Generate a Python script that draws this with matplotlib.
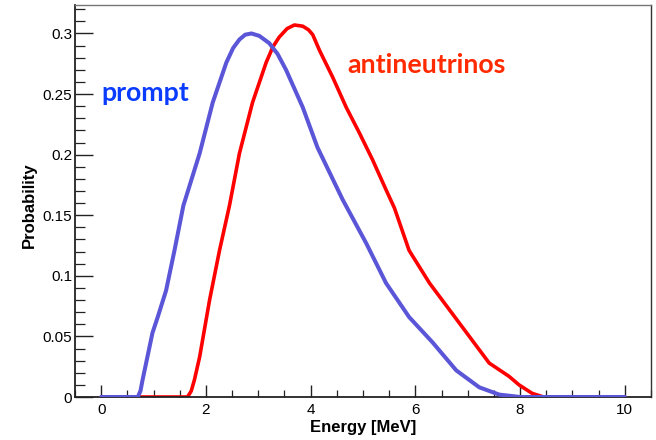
import matplotlib
matplotlib.use("Agg")
import matplotlib.pyplot as plt
from matplotlib.ticker import MultipleLocator

# Data
prompt_energy = [0, 0.70, 0.75, 0.79, 0.98, 1.08, 1.24, 1.40, 1.57, 1.88, 2.13, 2.39, 2.52,
                 2.64, 2.75, 2.87, 3.02, 3.21, 3.37, 3.53, 3.85, 4.13, 4.61, 5.06, 5.44,
                 5.88, 6.33, 6.78, 7.22, 7.60, 8.00, 10.0]
prompt_prob = [0, 0, 0.005, 0.014, 0.053, 0.066, 0.088, 0.121, 0.158, 0.201, 0.243, 0.276, 0.288,
               0.295, 0.299, 0.300, 0.298, 0.292, 0.283, 0.270, 0.239, 0.206, 0.163, 0.127, 0.094,
               0.066, 0.045, 0.022, 0.008, 0.002, 0, 0]

anti_energy = [0, 1.65, 1.72, 1.78, 1.88, 2.07, 2.26, 2.45, 2.64, 2.89, 3.15, 3.28, 3.40, 3.55,
               3.69, 3.85, 3.96, 4.04, 4.17, 4.42, 4.68, 4.93, 5.18, 5.44, 5.60, 5.88, 6.27,
               6.65, 7.03, 7.41, 7.79, 7.98, 8.23, 8.45, 10.0]
anti_prob = [0, 0, 0.005, 0.014, 0.033, 0.080, 0.121, 0.158, 0.201, 0.243, 0.276, 0.289, 0.297, 0.304,
             0.307, 0.306, 0.303, 0.299, 0.286, 0.264, 0.239, 0.218, 0.196, 0.171, 0.156, 0.121, 0.094,
             0.072, 0.050, 0.028, 0.017, 0.010, 0.003, 0, 0]

x_ticks = [0, 2, 4, 6, 8, 10]
x_tick_labels = ["0", "2", "4", "6", "8", "10"]
y_ticks = [0, 0.05, 0.1, 0.15, 0.2, 0.25, 0.3]
y_tick_labels = ["0", "0.05", "0.1", "0.15", "0.2", "0.25", "0.3"]

plt.rcParams['font.family'] = ['Liberation Sans', 'DejaVu Sans']

fig = plt.figure(figsize=(6.56, 4.40), dpi=100)
ax = fig.add_axes([75/656, 43/440, 576/656, 392/440])

ax.plot(anti_energy, anti_prob, color='#ff0000', lw=2.6,
        solid_joinstyle='round', solid_capstyle='round', zorder=2)
ax.plot(prompt_energy, prompt_prob, color='#5b55d8', lw=2.9,
        solid_joinstyle='round', solid_capstyle='round', zorder=3)

ax.set_xlim(-0.5, 10.5)
ax.set_ylim(0, 0.3235)

ax.set_xticks(x_ticks)
ax.set_xticklabels(x_tick_labels)
ax.set_yticks(y_ticks)
ax.set_yticklabels(y_tick_labels)
ax.xaxis.set_minor_locator(MultipleLocator(0.5))
ax.yaxis.set_minor_locator(MultipleLocator(0.01))

ax.tick_params(axis='both', which='both', direction='in', colors='#222222',
               labelcolor='black', labelsize=11)
ax.tick_params(axis='y', which='major', length=13, width=1.0, pad=2)
ax.tick_params(axis='y', which='minor', length=7, width=0.9)
ax.tick_params(axis='x', which='major', length=9, width=1.0, pad=4)
ax.tick_params(axis='x', which='minor', length=5, width=0.9)
ax.tick_params(top=False, right=False, which='both')

for s in ['left', 'bottom']:
    ax.spines[s].set_linewidth(1.3)
    ax.spines[s].set_color('#222222')
ax.spines['top'].set_linewidth(1.0)
ax.spines['top'].set_color('#777777')
ax.spines['right'].set_linewidth(1.0)
ax.spines['right'].set_color('#333333')

ax.set_xlabel("Energy [MeV]", fontsize=12, fontweight='bold')
ax.xaxis.set_label_coords(0.5, -0.079)
ax.xaxis.label.set_va('center')
ax.set_ylabel("Probability", fontsize=12, fontweight='bold')
ax.yaxis.set_label_coords(-0.080, 0.49)
ax.yaxis.label.set_va('center')

ax.text(0.0, 0.244, "prompt", color='#0a3cff', fontsize=19.3, fontweight='bold',
        family=['Lato', 'DejaVu Sans'], ha='left', va='baseline')
ax.text(4.70, 0.267, "antineutrinos", color='#ff2a00', fontsize=19.3, fontweight='bold',
        family=['Lato', 'DejaVu Sans'], ha='left', va='baseline')

fig.savefig("out.png", dpi=100)
